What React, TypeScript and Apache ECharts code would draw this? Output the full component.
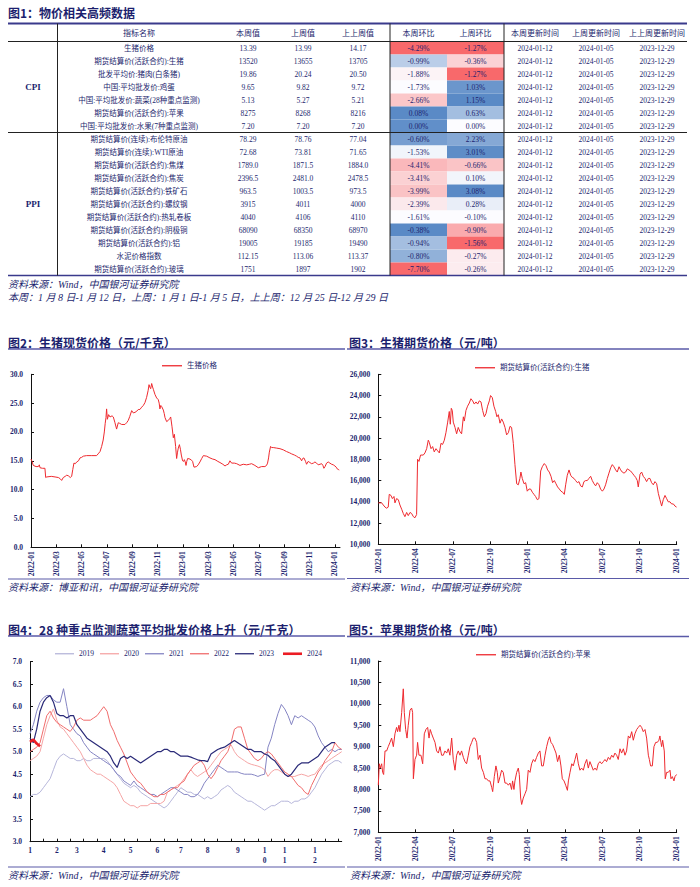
import React, { useEffect, useRef } from 'react';
import * as echarts from 'echarts';

const NAVY = '#1c1f6e';
const LINE_NAVY = '#3a3a8c';
const SERIF = '"Liberation Serif", "Noto Sans CJK SC", serif';
const CJK = '"Noto Sans CJK SC", sans-serif';

// ---------------- Table (图1) ----------------
const groupLabels = ['CPI', 'PPI'];
const groupSizes = [7, 11];
const itemNames = [
  '生猪价格',
  '期货结算价(活跃合约):生猪',
  '批发平均价:猪肉(白条猪)',
  '中国:平均批发价:鸡蛋',
  '中国:平均批发价:蔬菜(28种重点监测)',
  '期货结算价(活跃合约):苹果',
  '中国:平均批发价:水果(7种重点监测)',
  '期货结算价(连续):布伦特原油',
  '期货结算价(连续):WTI原油',
  '期货结算价(活跃合约):焦煤',
  '期货结算价(活跃合约):焦炭',
  '期货结算价(活跃合约):铁矿石',
  '期货结算价(活跃合约):螺纹钢',
  '期货结算价(活跃合约):热轧卷板',
  '期货结算价(活跃合约):阴极铜',
  '期货结算价(活跃合约):铝',
  '水泥价格指数',
  '期货结算价(活跃合约):玻璃',
];
const thisWeekValues = ['13.39', '13520', '19.86', '9.65', '5.13', '8275', '7.20', '78.29', '72.68', '1789.0', '2396.5', '963.5', '3915', '4040', '68090', '19005', '112.15', '1751'];
const lastWeekValues = ['13.99', '13655', '20.24', '9.82', '5.27', '8268', '7.20', '78.76', '73.81', '1871.5', '2481.0', '1003.5', '4011', '4106', '68350', '19185', '113.06', '1897'];
const twoWeeksAgoValues = ['14.17', '13705', '20.50', '9.72', '5.21', '8216', '7.20', '77.04', '71.65', '1884.0', '2478.5', '973.5', '4000', '4110', '68970', '19490', '113.37', '1902'];
const thisWeekChange = [-4.29, -0.99, -1.88, -1.73, -2.66, 0.08, 0.0, -0.6, -1.53, -4.41, -3.41, -3.99, -2.39, -1.61, -0.38, -0.94, -0.8, -7.7];
const lastWeekChange = [-1.27, -0.36, -1.27, 1.03, 1.15, 0.63, 0.0, 2.23, 3.01, -0.66, 0.1, 3.08, 0.28, -0.1, -0.9, -1.56, -0.27, -0.26];
const updateDates = ['2024-01-12', '2024-01-05', '2023-12-29'];
const headerLabels = ['指标名称', '本周值', '上周值', '上上周值', '本周环比', '上周环比', '本周更新时间', '上周更新时间', '上上周更新时间'];
const changeColumns = ['本周环比', '上周环比'];

// ---------------- 图2 生猪现货价格 (months since 2022-01, 元/千克) ----------------
const pigSpot: [number, number][] = [
  [0, 15.3], [0.08, 14.9], [0.18, 14.2], [0.4, 14.0], [0.58, 14.0], [0.66, 14.3], [0.71, 13.8], [0.9, 13.7], [1.1, 13.7], [1.16, 12.1],
  [1.24, 12.2], [1.6, 12.3], [1.9, 12.2], [2.16, 12.1], [2.3, 11.9], [2.42, 11.6], [2.55, 12.1], [2.7, 12.3], [2.82, 12.5], [2.95, 12.4],
  [3.1, 12.1], [3.21, 12.3], [3.3, 13.5], [3.39, 14.6], [3.5, 14.5], [3.61, 14.8], [3.75, 15.0], [3.87, 15.5], [4.0, 15.6], [4.13, 15.8],
  [4.39, 15.9], [4.8, 15.9], [5.18, 15.9], [5.3, 16.2], [5.45, 16.6], [5.58, 17.5], [5.7, 18.6], [5.79, 20.0], [5.86, 21.5], [5.92, 22.5],
  [5.97, 24.0], [6.03, 22.2], [6.13, 23.0], [6.24, 22.6], [6.4, 22.8], [6.5, 22.6], [6.63, 21.6], [6.76, 20.5], [6.89, 21.6], [7.0, 21.5],
  [7.16, 21.3], [7.42, 21.3], [7.55, 21.6], [7.68, 22.0], [7.8, 22.7], [7.95, 23.7], [8.08, 23.3], [8.21, 23.4], [8.35, 23.6], [8.47, 23.9],
  [8.6, 23.9], [8.74, 24.3], [8.87, 24.6], [9.0, 25.1], [9.13, 26.0], [9.25, 27.2], [9.32, 28.2], [9.4, 27.7], [9.45, 27.5], [9.53, 28.4],
  [9.6, 27.8], [9.66, 27.4], [9.79, 26.5], [9.92, 25.9], [10.05, 25.6], [10.12, 25.0], [10.18, 24.0], [10.25, 24.6], [10.32, 24.4], [10.45, 23.8],
  [10.52, 23.2], [10.58, 22.5], [10.71, 21.8], [10.84, 22.0], [10.95, 22.3], [11.03, 22.6], [11.13, 21.0], [11.24, 19.0], [11.32, 19.6], [11.42, 17.5],
  [11.5, 15.4], [11.57, 16.5], [11.63, 17.2], [11.72, 17.8], [11.8, 17.0], [11.87, 16.0], [11.97, 15.0], [12.05, 14.9], [12.11, 15.2], [12.18, 14.8],
  [12.24, 14.2], [12.3, 14.9], [12.37, 15.4], [12.55, 15.3], [12.68, 15.1], [12.76, 14.9], [12.87, 13.9], [13.08, 14.0], [13.2, 14.3], [13.34, 14.8],
  [13.48, 15.4], [13.61, 15.9], [13.87, 15.8], [14.13, 15.5], [14.35, 15.3], [14.53, 15.2], [14.75, 14.9], [14.92, 14.7], [15.15, 14.4], [15.32, 14.1],
  [15.45, 14.3], [15.58, 14.4], [15.71, 15.0], [15.84, 14.6], [16.05, 14.6], [16.24, 14.5], [16.5, 14.2], [16.76, 14.4], [17.03, 14.3], [17.25, 14.4],
  [17.42, 14.5], [17.68, 14.2], [17.95, 13.8], [18.21, 14.0], [18.47, 14.0], [18.6, 14.2], [18.68, 14.6], [18.76, 15.5], [18.82, 16.5], [18.92, 17.5],
  [19.0, 17.3], [19.13, 17.3], [19.4, 17.2], [19.66, 17.1], [19.92, 16.9], [20.18, 16.6], [20.4, 16.4], [20.58, 16.2], [20.8, 16.0], [20.97, 15.8],
  [21.1, 15.6], [21.24, 15.5], [21.37, 15.0], [21.45, 15.4], [21.55, 15.5], [21.68, 14.9], [21.76, 14.4], [21.89, 14.9], [22.02, 14.7], [22.16, 14.5],
  [22.3, 14.6], [22.42, 14.8], [22.55, 14.6], [22.68, 14.3], [22.82, 14.4], [22.95, 14.5], [23.05, 14.2], [23.13, 13.7], [23.22, 14.0], [23.34, 14.6],
  [23.47, 14.8], [23.6, 14.6], [23.74, 14.4], [23.87, 14.3], [24.0, 14.1], [24.1, 13.9], [24.18, 13.6], [24.26, 13.5], [24.34, 13.4],
];

// ---------------- 图3 生猪期货价格 (months since 2022-01, 元/吨) ----------------
const pigFutures: [number, number][] = [
  [0, 13900], [0.27, 13900], [0.4, 13700], [0.54, 13500], [0.67, 13400], [0.8, 13500], [0.88, 14700], [1.02, 14600], [1.13, 14300], [1.26, 14500],
  [1.34, 13900], [1.47, 14300], [1.61, 14200], [1.74, 13700], [1.88, 13300], [2.01, 12900], [2.14, 12600], [2.28, 13000], [2.41, 12700], [2.55, 13000],
  [2.68, 12900], [2.82, 12600], [2.95, 12500], [3.08, 12800], [3.16, 18000], [3.27, 17800], [3.4, 18400], [3.62, 18400], [3.75, 18600], [3.89, 19000],
  [4.02, 19800], [4.1, 19600], [4.24, 19000], [4.37, 19200], [4.5, 18700], [4.64, 19000], [4.77, 18800], [4.91, 18600], [5.04, 19500], [5.17, 19400],
  [5.31, 19800], [5.44, 20500], [5.58, 21500], [5.71, 22500], [5.79, 21300], [5.87, 22800], [5.95, 22600], [6.03, 21500], [6.17, 21000], [6.3, 20400],
  [6.43, 21000], [6.57, 20600], [6.7, 20400], [6.84, 22000], [6.92, 21600], [7.05, 22600], [7.18, 23000], [7.32, 23300], [7.45, 23700], [7.59, 23500],
  [7.72, 23200], [7.86, 23400], [7.99, 23200], [8.12, 23500], [8.26, 23400], [8.39, 22600], [8.53, 22000], [8.66, 22300], [8.79, 23000], [8.93, 23500],
  [9.03, 24000], [9.17, 23800], [9.3, 23000], [9.44, 22500], [9.54, 22000], [9.65, 22200], [9.79, 21400], [9.92, 21800], [10.05, 21500], [10.19, 21000],
  [10.32, 20300], [10.46, 20500], [10.59, 21100], [10.72, 21000], [10.86, 19500], [10.99, 17500], [11.13, 15700], [11.26, 15600], [11.39, 16200], [11.47, 16800],
  [11.58, 16200], [11.72, 15700], [11.85, 15800], [11.98, 15000], [12.12, 15200], [12.25, 15200], [12.39, 14900], [12.52, 14700], [12.65, 14500], [12.79, 14200],
  [12.92, 14300], [13.06, 16900], [13.19, 17300], [13.35, 17600], [13.49, 17400], [13.62, 17000], [13.75, 16800], [13.89, 16400], [14.02, 15800], [14.16, 16000],
  [14.29, 15700], [14.42, 15400], [14.56, 15200], [14.69, 15000], [14.83, 14900], [14.96, 14700], [15.07, 15600], [15.2, 16500], [15.34, 17000], [15.47, 16500],
  [15.6, 16300], [15.74, 16200], [15.87, 16000], [16.01, 15800], [16.14, 15900], [16.27, 15500], [16.41, 15400], [16.54, 15900], [16.68, 16000], [16.81, 16000],
  [16.94, 16200], [17.08, 16400], [17.21, 16000], [17.35, 15700], [17.48, 15500], [17.61, 15800], [17.75, 15600], [17.88, 15200], [18.02, 15000], [18.15, 15200],
  [18.28, 15600], [18.42, 16200], [18.55, 16700], [18.69, 17200], [18.82, 17500], [18.95, 17300], [19.09, 17000], [19.22, 16800], [19.36, 17300], [19.49, 17000],
  [19.62, 16800], [19.76, 16700], [19.89, 16800], [20.03, 17100], [20.16, 17000], [20.29, 16900], [20.43, 16700], [20.56, 16500], [20.7, 16300], [20.83, 16000],
  [20.91, 15400], [21.05, 16600], [21.18, 16800], [21.31, 16400], [21.45, 16200], [21.58, 15900], [21.72, 16200], [21.85, 16200], [21.98, 15800], [22.12, 15600],
  [22.25, 15900], [22.39, 15700], [22.52, 14800], [22.65, 14200], [22.79, 13600], [22.92, 14200], [23.06, 14600], [23.19, 14300], [23.32, 14000], [23.46, 14000],
  [23.59, 13800], [23.73, 13800], [23.86, 13600], [23.99, 13500],
];

// ---------------- 图4 28种重点监测蔬菜平均批发价格 (sample index within year, 元/千克) ----------------
const vegMonthLabelIdx = [0, 8, 14, 22, 30, 38, 45, 53, 62, 70, 76, 85];
const vegMonthLabels = ['1', '2', '3', '4', '5', '6', '7', '8', '9', '10', '11', '12'];
const vegYears = ['2019', '2020', '2021', '2022', '2023', '2024'];
const veg2019 = [4.0, 4.05, 4.05, 4.1, 4.2, 4.3, 4.4, 4.6, 4.8, 4.9, 4.95, 4.9, 4.85, 4.85, 4.8, 4.8, 4.85, 4.8, 4.8, 4.85, 4.85, 4.85, 4.85, 4.8, 4.7, 4.6, 4.5, 4.4, 4.3, 4.25, 4.2, 4.25, 4.2, 4.1, 4.05, 4.0, 3.95, 3.9, 3.85, 3.8, 3.75, 3.8, 3.9, 4.0, 4.1, 4.2, 4.15, 4.1, 4.1, 4.05, 4.05, 4.0, 3.95, 4.0, 3.95, 4.0, 4.05, 4.15, 4.2, 4.25, 4.2, 4.1, 4.05, 4.0, 3.95, 3.9, 3.9, 3.85, 3.8, 3.75, 3.7, 3.75, 3.8, 3.8, 3.85, 3.9, 3.9, 3.9, 3.85, 3.9, 3.9, 3.95, 3.95, 4.0, 4.1, 4.2, 4.35, 4.5, 4.6, 4.7, 4.75, 4.8, 4.8, 4.75];
const veg2020 = [4.8, 4.85, 4.9, 5.0, 5.3, 5.6, 5.8, 5.95, 5.7, 5.55, 5.5, 5.4, 5.3, 5.2, 5.1, 5.0, 4.85, 4.7, 4.6, 4.55, 4.5, 4.5, 4.45, 4.4, 4.35, 4.3, 4.2, 4.05, 3.9, 3.85, 3.8, 3.8, 3.75, 3.8, 3.8, 3.8, 3.85, 3.85, 3.85, 3.85, 3.9, 4.1, 4.15, 4.2, 4.25, 4.3, 4.4, 4.5, 4.6, 4.5, 4.45, 4.5, 4.55, 4.6, 4.7, 4.8, 4.9, 5.0, 5.05, 5.1, 5.15, 5.0, 4.9, 4.85, 4.8, 4.75, 4.72, 4.7, 4.68, 4.65, 4.6, 4.45, 4.55, 4.6, 4.6, 4.55, 4.5, 4.45, 4.45, 4.45, 4.48, 4.5, 4.48, 4.45, 4.48, 4.5, 4.6, 4.7, 4.75, 4.8, 4.85, 4.9, 4.95, 5.0];
const veg2021 = [5.4, 5.6, 5.9, 6.1, 6.2, 6.25, 6.25, 6.15, 6.1, 6.1, 6.4, 6.0, 5.6, 5.5, 5.4, 5.35, 5.2, 5.1, 5.0, 4.95, 4.9, 4.85, 4.8, 4.75, 4.7, 4.6, 4.5, 4.45, 4.35, 4.3, 4.25, 4.35, 4.25, 4.2, 4.15, 4.1, 4.05, 4.05, 4.0, 4.05, 4.1, 4.15, 4.2, 4.2, 4.15, 4.1, 4.05, 4.05, 4.0, 4.0, 4.05, 4.15, 4.3, 4.4, 4.5, 4.6, 4.7, 4.65, 4.6, 4.55, 4.55, 4.55, 4.55, 4.52, 4.5, 4.5, 4.5, 4.48, 4.45, 4.48, 4.5, 5.1, 5.3, 5.6, 5.85, 6.05, 5.95, 5.8, 5.6, 5.8, 5.75, 5.8, 5.75, 5.7, 5.65, 5.55, 5.35, 5.2, 5.1, 5.0, 5.05, 5.0, 5.05, 5.05];
const veg2022 = [5.0, 5.05, 5.1, 5.2, 5.5, 5.8, 5.9, 5.75, 5.65, 5.6, 5.55, 5.5, 5.45, 5.55, 5.7, 5.75, 5.7, 5.7, 5.7, 5.75, 5.8, 5.9, 6.0, 5.9, 5.6, 5.45, 5.25, 5.1, 4.95, 4.75, 4.55, 4.45, 4.35, 4.3, 4.2, 4.1, 4.05, 4.0, 4.0, 4.05, 4.05, 4.1, 4.15, 4.2, 4.2, 4.3, 4.35, 4.5, 4.6, 4.7, 4.75, 4.8, 4.7, 4.5, 4.4, 4.5, 4.65, 4.8, 4.9, 5.0, 5.2, 5.5, 5.55, 5.55, 5.3, 5.05, 4.95, 4.85, 4.8, 4.85, 4.95, 5.0, 4.95, 4.85, 4.75, 4.65, 4.55, 4.5, 4.45, 4.35, 4.25, 4.2, 4.1, 4.05, 4.25, 4.4, 4.55, 4.65, 4.8, 4.9, 5.0, 5.2, 5.1, 5.05];
const veg2023 = [5.3, 5.2, 5.5, 5.9, 6.1, 6.2, 6.25, 6.1, 5.85, 5.8, 5.8, 5.75, 5.8, 5.8, 5.6, 5.5, 5.4, 5.3, 5.25, 5.2, 5.15, 5.1, 5.05, 5.0, 4.9, 4.75, 4.65, 4.85, 4.9, 4.85, 4.9, 4.85, 4.8, 4.75, 4.8, 4.85, 4.9, 4.95, 5.0, 5.0, 5.05, 5.05, 5.0, 5.0, 4.95, 4.9, 4.9, 4.9, 4.88, 4.85, 4.82, 4.8, 4.8, 4.78, 4.95, 5.0, 5.05, 5.08, 5.1, 5.15, 5.2, 5.25, 5.2, 5.15, 5.1, 5.05, 5.05, 5.0, 5.0, 5.0, 4.95, 4.92, 4.85, 4.8, 4.7, 4.6, 4.5, 4.45, 4.5, 4.6, 4.7, 4.75, 4.75, 4.75, 4.8, 4.85, 4.9, 5.0, 5.1, 5.15, 5.2, 5.2];
const veg2024 = [5.22, 5.27, 5.18, 5.12];
const vegSeries = [veg2019, veg2020, veg2021, veg2022, veg2023, veg2024];
const vegColors = ['#b6b6da', '#f5a5a5', '#8585c3', '#f06c6c', '#2a2a78', '#ec1c24'];
const vegWidths = [1, 1, 1, 1, 1.2, 2.6];

// ---------------- 图5 苹果期货价格 (months since 2022-01, 元/吨) ----------------
const appleFutures: [number, number][] = [
  [0, 8100], [0.08, 8600], [0.16, 8500], [0.27, 8600], [0.35, 8400], [0.43, 8350], [0.54, 8900], [0.67, 8900], [0.8, 9000], [0.94, 9100],
  [1.07, 9200], [1.21, 9000], [1.34, 9300], [1.47, 9450], [1.55, 9350], [1.66, 9500], [1.74, 9350], [1.88, 9800], [2.01, 10350], [2.09, 9800],
  [2.2, 9400], [2.31, 9200], [2.41, 9500], [2.55, 9850], [2.68, 9900], [2.76, 9800], [2.82, 8250], [2.95, 8700], [3.08, 8800], [3.16, 9100],
  [3.27, 8800], [3.43, 8800], [3.57, 8600], [3.7, 9300], [3.83, 9400], [3.97, 9450], [4.08, 9200], [4.18, 9400], [4.29, 9300], [4.42, 9200],
  [4.56, 9100], [4.69, 8900], [4.83, 8850], [4.96, 9000], [5.09, 8800], [5.23, 8800], [5.36, 8900], [5.5, 8850], [5.63, 8950], [5.76, 8800],
  [5.9, 9200], [6.03, 8700], [6.17, 8450], [6.3, 8800], [6.43, 8900], [6.57, 8800], [6.7, 8900], [6.84, 8750], [6.97, 8650], [7.1, 8600],
  [7.24, 8800], [7.37, 9000], [7.51, 9100], [7.64, 9200], [7.77, 9200], [7.91, 9100], [8.04, 8700], [8.18, 8800], [8.31, 8500], [8.45, 8400],
  [8.58, 8250], [8.71, 8250], [8.85, 8200], [8.98, 8200], [9.12, 8050], [9.2, 7950], [9.33, 8300], [9.46, 8550], [9.57, 8400], [9.65, 8150],
  [9.79, 8300], [9.92, 8450], [10.05, 8400], [10.19, 8150], [10.32, 8150], [10.46, 8100], [10.59, 8150], [10.72, 8000], [10.8, 8200], [10.91, 8000],
  [10.99, 8200], [11.13, 8400], [11.26, 8500], [11.34, 8350], [11.45, 7800], [11.53, 7650], [11.66, 7800], [11.8, 7900], [11.93, 8000], [12.06, 8450],
  [12.2, 8400], [12.33, 8600], [12.47, 8700], [12.6, 8650], [12.73, 8750], [12.87, 8850], [13.0, 8900], [13.14, 8550], [13.27, 8550], [13.41, 8800],
  [13.54, 9000], [13.67, 9150], [13.78, 9230], [13.89, 9100], [14.02, 9050], [14.16, 8950], [14.29, 8850], [14.42, 8650], [14.56, 8800], [14.69, 8550],
  [14.8, 8250], [14.94, 8200], [15.07, 8100], [15.21, 7980], [15.29, 8200], [15.42, 8400], [15.56, 8600], [15.68, 8550], [15.82, 8700], [15.95, 8850],
  [16.09, 8600], [16.22, 8450], [16.35, 8500], [16.49, 8450], [16.62, 8600], [16.76, 8700], [16.89, 8500], [17.02, 8650], [17.16, 8550], [17.29, 8450],
  [17.43, 8500], [17.56, 8450], [17.69, 8600], [17.83, 8650], [17.96, 8600], [18.1, 8650], [18.23, 8700], [18.36, 8650], [18.5, 8750], [18.63, 8700],
  [18.77, 8800], [18.9, 8750], [19.03, 8850], [19.17, 8800], [19.3, 8700], [19.44, 8950], [19.57, 8850], [19.71, 8950], [19.84, 8800], [19.97, 8900],
  [20.11, 9250], [20.24, 9200], [20.38, 9350], [20.51, 9150], [20.64, 9300], [20.78, 9400], [20.91, 9450], [21.05, 9500], [21.18, 9450], [21.31, 9350],
  [21.45, 9400], [21.58, 9200], [21.72, 8800], [21.8, 8700], [21.9, 8550], [22.04, 8550], [22.17, 9000], [22.31, 9100], [22.44, 9100], [22.57, 9150],
  [22.65, 9250], [22.73, 9100], [22.79, 9000], [22.87, 9150], [23.0, 8900], [23.08, 8250], [23.19, 8400], [23.32, 8400], [23.46, 8450], [23.54, 8250],
  [23.65, 8300], [23.78, 8200], [23.86, 8300], [23.99, 8350],
];

// ---------------- helpers ----------------
const RED = [248, 105, 107];
const WHITE = [252, 252, 255];
const BLUE = [90, 138, 198];
function mix(a: number[], b: number[], t: number) {
  const c = a.map((v, i) => Math.round(v + (b[i] - v) * Math.max(0, Math.min(1, t))));
  return `rgb(${c[0]},${c[1]},${c[2]})`;
}
// three-colour scale: min red, median white, max blue
function scaleColor(v: number, vals: number[]) {
  const s = [...vals].sort((a, b) => a - b);
  const n = s.length;
  const med = n % 2 ? s[(n - 1) / 2] : (s[n / 2 - 1] + s[n / 2]) / 2;
  const mn = s[0];
  const mx = s[n - 1];
  if (v <= med) return mix(WHITE, RED, med === mn ? 0 : (med - v) / (med - mn));
  return mix(WHITE, BLUE, mx === med ? 0 : (v - med) / (mx - med));
}
const monthLabel = (v: number) => {
  const m = Math.round(v);
  return `${2022 + Math.floor(m / 12)}-${String((m % 12) + 1).padStart(2, '0')}`;
};
const thousands = (v: number) => v.toLocaleString('en-US');

export default function App() {
  const ref = useRef<HTMLDivElement>(null);
  useEffect(() => {
    if (!ref.current) return;
    const chart = echarts.init(ref.current, undefined, { renderer: 'svg' });

    // table geometry
    const tableLeft = 8, tableRight = 687, tableTop = 23.5, headerBottom = 41.5, rowH = 13;
    const colX = { group: 33, name: 139, cur: 248, prev: 303, prev2: 358, d1: 535, d2: 596, d3: 657 };
    const tableBottom = headerBottom + rowH * itemNames.length;

    const g: any[] = [];
    const line = (x1: number, y1: number, x2: number, y2: number, stroke: string, w: number) =>
      g.push({ type: 'line', silent: true, shape: { x1, y1, x2, y2 }, style: { stroke, lineWidth: w } });
    const text = (x: number, y: number, t: string, font: string, align = 'center', fill = NAVY) =>
      g.push({
        type: 'text', silent: true, x, y,
        style: { text: t, font, fill, textAlign: align, textVerticalAlign: 'middle', align, verticalAlign: 'middle' },
      });

    // titles
    const titleFont = `bold 12px ${CJK}`;
    text(8, 12, '图1：物价相关高频数据', titleFont, 'left');
    text(8, 342, '图2：生猪现货价格（元/千克）', titleFont, 'left');
    text(349, 342, '图3：生猪期货价格（元/吨）', titleFont, 'left');
    text(8, 629, '图4：28 种重点监测蔬菜平均批发价格上升（元/千克）', titleFont, 'left');
    text(349, 629, '图5：苹果期货价格（元/吨）', titleFont, 'left');

    // title underlines and source lines
    const PURPLE = '#5a5aa8';
    line(8, 349, 345, 349, PURPLE, 1.5);
    line(347, 349, 689, 349, PURPLE, 1.5);
    line(8, 636, 345, 636, PURPLE, 1.5);
    line(347, 636.5, 689, 636.5, PURPLE, 1.5);
    line(8, 579, 345, 579, PURPLE, 1.2);
    line(347, 578.5, 689, 578.5, PURPLE, 1.2);
    line(8, 867, 345, 867, PURPLE, 1.2);
    line(347, 867, 689, 867, PURPLE, 1.2);

    const srcFont = `italic 10px ${SERIF}`;
    text(8, 284, '资料来源：Wind，中国银河证券研究院', srcFont, 'left');
    text(8, 297, '本周：1 月 8 日-1 月 12 日，上周：1 月 1 日-1 月 5 日，上上周：12 月 25 日-12 月 29 日', srcFont, 'left');
    text(8, 587, '资料来源：博亚和讯，中国银河证券研究院', srcFont, 'left');
    text(350, 587, '资料来源：Wind，中国银河证券研究院', srcFont, 'left');
    text(8, 875, '资料来源：Wind，中国银河证券研究院', srcFont, 'left');
    text(350, 875, '资料来源：Wind，中国银河证券研究院', srcFont, 'left');

    // table frame
    line(tableLeft, tableTop, tableRight, tableTop, LINE_NAVY, 2);
    line(tableLeft, headerBottom, tableRight, headerBottom, '#222', 1);
    line(tableLeft, headerBottom + rowH * groupSizes[0], tableRight, headerBottom + rowH * groupSizes[0], '#222', 1);
    line(tableLeft, tableBottom, tableRight, tableBottom, LINE_NAVY, 1.5);

    // header
    const headFont = `8px ${CJK}`;
    const headerX = [colX.name, colX.cur, colX.prev, colX.prev2, 418.5, 475.5, colX.d1, colX.d2, colX.d3];
    headerLabels.forEach((h, i) => text(headerX[i], 32.5, h, headFont));

    // group labels
    let start = 0;
    groupLabels.forEach((gl, i) => {
      const yc = headerBottom + rowH * (start + groupSizes[i] / 2);
      text(colX.group, yc, gl, `bold 9px ${SERIF}`);
      start += groupSizes[i];
    });

    // rows
    const cellFont = `7.5px ${SERIF}`;
    itemNames.forEach((nm, r) => {
      const yc = headerBottom + rowH * r + rowH / 2;
      text(colX.name, yc, nm, cellFont);
      text(colX.cur, yc, thisWeekValues[r], cellFont);
      text(colX.prev, yc, lastWeekValues[r], cellFont);
      text(colX.prev2, yc, twoWeeksAgoValues[r], cellFont);
      text(colX.d1, yc, updateDates[0], cellFont);
      text(colX.d2, yc, updateDates[1], cellFont);
      text(colX.d3, yc, updateDates[2], cellFont);
    });

    // change cells with per-block colour scale (drawn by a custom series on category axes)
    const cellData: number[][] = [];
    const cellColors: string[] = [];
    [thisWeekChange, lastWeekChange].forEach((col, ci) => {
      let s0 = 0;
      groupSizes.forEach((sz) => {
        const block = col.slice(s0, s0 + sz);
        block.forEach((v, k) => {
          cellData.push([ci, s0 + k, v]);
          cellColors.push(scaleColor(v, block));
        });
        s0 += sz;
      });
    });

    const axisLabelBase = { color: NAVY, fontFamily: SERIF, fontSize: 7.5, fontWeight: 'bold' as const };
    const axisLineBase = { show: true, onZero: false, lineStyle: { color: '#111', width: 1 } };
    const tickBase = { show: true, inside: true, length: 3, lineStyle: { color: '#111' } };

    const timeX = (gridIndex: number, max: number, interval: number) => ({
      type: 'value', gridIndex, min: 0, max, interval,
      axisLine: axisLineBase, axisTick: tickBase, splitLine: { show: false },
      axisLabel: { ...axisLabelBase, fontSize: 7.5, rotate: 90, margin: 4, formatter: monthLabel, showMaxLabel: max % interval === 0 },
    });
    const valY = (gridIndex: number, min: number, max: number, interval: number, fmt: (v: number) => string) => ({
      type: 'value', gridIndex, min, max, interval,
      axisLine: axisLineBase, axisTick: tickBase, splitLine: { show: false },
      axisLabel: { ...axisLabelBase, margin: 8, formatter: fmt },
    });

    const legendText = { color: NAVY, fontFamily: SERIF, fontSize: 7.5 };
    const legendBase = { icon: 'rect', itemWidth: 20, itemHeight: 1.3, textStyle: legendText };

    const option: any = {
      animation: false,
      backgroundColor: '#fff',
      grid: [
        { left: 390, top: headerBottom, width: 114, height: rowH * itemNames.length },
        { left: 31, top: 374.3, width: 309, height: 173 },
        { left: 378.3, top: 374.3, width: 298.4, height: 170 },
        { left: 30, top: 661.7, width: 311.7, height: 180 },
        { left: 378.3, top: 661, width: 298.4, height: 171.3 },
      ],
      xAxis: [
        { type: 'category', gridIndex: 0, data: changeColumns, show: false },
        timeX(1, 24.4, 2),
        timeX(2, 24, 3),
        {
          type: 'category', gridIndex: 3, boundaryGap: false,
          data: veg2019.map((_, i) => String(i)),
          axisLine: axisLineBase,
          axisTick: { ...tickBase, interval: 3 },
          axisLabel: {
            ...axisLabelBase, margin: 4, lineHeight: 10,
            interval: (idx: number) => vegMonthLabelIdx.includes(idx),
            formatter: (_v: string, idx: number) => {
              const k = vegMonthLabelIdx.indexOf(idx);
              return k < 0 ? '' : vegMonthLabels[k].split('').join('\n');
            },
          },
          splitLine: { show: false },
        },
        timeX(4, 24, 3),
      ],
      yAxis: [
        { type: 'category', gridIndex: 0, data: itemNames.map((_, i) => String(i)), inverse: true, show: false },
        valY(1, 0, 30, 5, (v) => v.toFixed(1)),
        valY(2, 10000, 26000, 2000, thousands),
        valY(3, 3, 7, 0.5, (v) => v.toFixed(1)),
        valY(4, 7000, 11000, 500, thousands),
      ],
      legend: [
        { ...legendBase, data: ['生猪价格'], left: 157, top: 357 },
        { ...legendBase, data: ['期货结算价(活跃合约):生猪'], left: 470, top: 359 },
        { ...legendBase, data: vegYears.slice(0, 5), left: 50, top: 645, itemWidth: 19, itemGap: 6 },
        { ...legendBase, data: vegYears.slice(5), left: 278, top: 645, itemWidth: 19, itemHeight: 2.6 },
        { ...legendBase, data: ['期货结算价(活跃合约):苹果'], left: 471, top: 646 },
      ],
      series: [
        {
          type: 'custom', name: '环比', xAxisIndex: 0, yAxisIndex: 0, data: cellData, silent: true, z: 1,
          renderItem: (params: any, api: any) => {
            const p = api.coord([api.value(0), api.value(1)]);
            const sz = api.size([1, 1]);
            const v = api.value(2) as number;
            return {
              type: 'group',
              children: [
                { type: 'rect', shape: { x: p[0] - sz[0] / 2, y: p[1] - sz[1] / 2, width: sz[0], height: sz[1] }, style: { fill: cellColors[params.dataIndex] } },
                {
                  type: 'text', x: p[0], y: p[1],
                  style: { text: `${v.toFixed(2)}%`, fill: NAVY, font: cellFont, textAlign: 'center', textVerticalAlign: 'middle', align: 'center', verticalAlign: 'middle' },
                },
              ],
            };
          },
        },
        {
          type: 'line', name: '生猪价格', xAxisIndex: 1, yAxisIndex: 1, data: pigSpot,
          symbol: 'none', lineStyle: { color: '#ee2a2f', width: 1 }, itemStyle: { color: '#ee2a2f' },
        },
        {
          type: 'line', name: '期货结算价(活跃合约):生猪', xAxisIndex: 2, yAxisIndex: 2, data: pigFutures,
          symbol: 'none', lineStyle: { color: '#ee2a2f', width: 1 }, itemStyle: { color: '#ee2a2f' },
        },
        ...vegSeries.map((d, i) => ({
          type: 'line', name: vegYears[i], xAxisIndex: 3, yAxisIndex: 3, data: d,
          symbol: 'none', z: i === 5 ? 5 : 2,
          lineStyle: { color: vegColors[i], width: vegWidths[i] }, itemStyle: { color: vegColors[i] },
        })),
        {
          type: 'line', name: '期货结算价(活跃合约):苹果', xAxisIndex: 4, yAxisIndex: 4, data: appleFutures,
          symbol: 'none', lineStyle: { color: '#ee2a2f', width: 1 }, itemStyle: { color: '#ee2a2f' },
        },
      ],
    };
    // vertical table lines drawn above the cells
    [57.5, 390, 504].forEach((x) => line(x, tableTop, x, tableBottom, '#222', 1));
    option.graphic = { elements: g.map((e) => ({ ...e, z: 10 })) };
    chart.setOption(option);
    return () => chart.dispose();
  }, []);
  return <div ref={ref} style={{ position: 'absolute', left: 0, top: 0, width: 700, height: 887, background: '#fff' }} />;
}
